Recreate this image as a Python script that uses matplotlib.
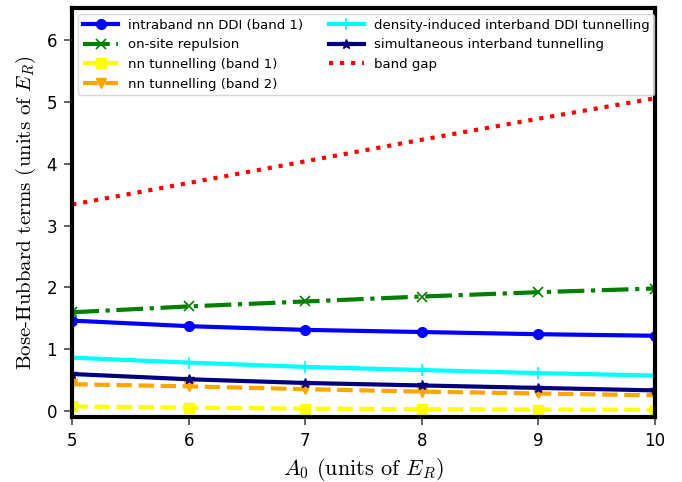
import matplotlib
matplotlib.use("Agg")
import matplotlib.pyplot as plt
import numpy as np

# lattice depth A0 (units of E_R)
A0 = [5, 6, 7, 8, 9, 10]

intraband_ddi = [1.46, 1.37, 1.31, 1.275, 1.24, 1.215]
onsite = [1.595, 1.69, 1.77, 1.85, 1.92, 1.98]
nn_tunnel_b1 = [0.07, 0.05, 0.035, 0.025, 0.02, 0.015]
nn_tunnel_b2 = [0.43, 0.395, 0.35, 0.31, 0.28, 0.25]
density_induced = [0.86, 0.78, 0.71, 0.66, 0.61, 0.57]
simultaneous = [0.595, 0.51, 0.45, 0.41, 0.37, 0.33]
band_gap = [3.34, 3.69, 4.04, 4.39, 4.73, 5.06]

plt.rcParams['mathtext.fontset'] = 'cm'

fig = plt.figure(figsize=(6.82, 4.82), dpi=100)
ax = fig.add_axes([0.106, 0.135, 0.854, 0.848])

lw = 3
ms = 7
ax.plot(A0, intraband_ddi, color='blue', ls='-', marker='o', lw=lw, ms=ms,
        label='intraband nn DDI (band 1)')
ax.plot(A0, onsite, color='green', ls='-.', marker='x', lw=lw, ms=ms, mew=1.2,
        label='on-site repulsion')
ax.plot(A0, nn_tunnel_b1, color='yellow', ls='--', marker='s', lw=lw, ms=ms,
        label='nn tunnelling (band 1)')
ax.plot(A0, nn_tunnel_b2, color='orange', ls='--', marker='v', lw=lw, ms=ms,
        label='nn tunnelling (band 2)')
ax.plot(A0, density_induced, color='cyan', ls='-', marker='+', lw=lw, ms=ms + 1,
        mew=1.2, label='density-induced interband DDI tunnelling')
ax.plot(A0, simultaneous, color='navy', ls='-', marker='*', lw=lw, ms=ms,
        label='simultaneous interband tunnelling')
ax.plot(A0, band_gap, color='red', ls=':', lw=lw, label='band gap')

ax.set_xlim(5, 10)
ax.set_ylim(-0.1, 6.52)
ax.set_xticks(A0)
ax.set_yticks([0, 1, 2, 3, 4, 5, 6])

for s in ax.spines.values():
    s.set_linewidth(3)
    s.set_color('black')
ax.tick_params(direction='out', length=6, width=1.3, color='#555555',
               labelsize=12, pad=5)

ax.set_xlabel(r'$A_0$ (units of $E_R$)', fontname='cmr10', fontsize=16)
ax.set_ylabel(r'Bose-Hubbard terms (units of $E_R$)', fontname='cmr10',
              fontsize=15, labelpad=6)

ax.legend(ncol=2, loc='upper left', fontsize=9.5, handlelength=2.7,
          handletextpad=0.75, borderpad=0.35, labelspacing=0.5,
          columnspacing=1.9, borderaxespad=0.45)

fig.savefig('out.png', dpi=100)
